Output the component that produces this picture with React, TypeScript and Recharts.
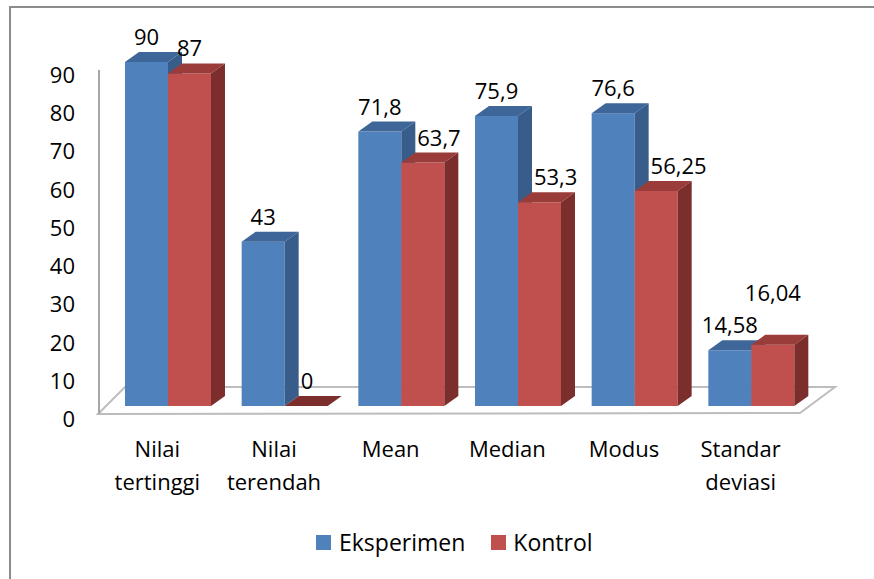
import { BarChart, Bar, XAxis, YAxis, ReferenceArea, LabelList, Legend } from "recharts";

const categories = ["Nilai tertinggi", "Nilai terendah", "Mean", "Median", "Modus", "Standar deviasi"];
const eksperimen = [90, 43, 71.8, 75.9, 76.6, 14.58];
const kontrol = [87, 0, 63.7, 53.3, 56.25, 16.04];
const yTicks = [0, 10, 20, 30, 40, 50, 60, 70, 80, 90];

const data = categories.map((name, i) => ({
  name,
  eksperimen: eksperimen[i],
  kontrol: kontrol[i],
}));

const FONT = "'Open Sans', sans-serif";
const DX = 14;
const DY = -10;

const palette = {
  blue: { front: "#4F81BD", top: "#3F6699", side: "#385D8A" },
  red: { front: "#C0504D", top: "#9A3C3A", side: "#7B2E2C" },
};

const fmt = (v: number) => String(v).replace(".", ",");
// rough text width at 22px
const textW = (s: string) => s.split("").reduce((a, ch) => a + (ch === "," ? 5.5 : 12.6), 0);

const make3dBar = (c: { front: string; top: string; side: string }) => (props: any) => {
  const { x, y, width: w, height: h } = props;
  if (x == null || y == null) return null;
  return (
    <g>
      <rect x={x} y={y} width={w} height={h} fill={c.front} />
      <polygon
        points={`${x},${y} ${x + DX},${y + DY} ${x + w + DX},${y + DY} ${x + w},${y}`}
        fill={h > 0 ? c.top : c.side}
      />
      <polygon
        points={`${x + w},${y} ${x + w + DX},${y + DY} ${x + w + DX},${y + h + DY} ${x + w},${y + h}`}
        fill={c.side}
      />
    </g>
  );
};

const Floor = (props: any) => {
  const { x, y, width, height } = props;
  const L = x;
  const R = x + width;
  const B = y + height;
  return (
    <g>
      <polygon
        points={`${L - 12},${B + 8} ${R - 10},${B + 7} ${R + 25},${B - 19} ${L + 15},${B - 19}`}
        fill="#fff"
        stroke="#BDBDBD"
        strokeWidth={2}
      />
      <line x1={L - 11} y1={y + 8} x2={L - 11} y2={B + 8} stroke="#A6A6A6" strokeWidth={2} />
    </g>
  );
};

const YTick = (props: any) => {
  const { y, payload } = props;
  return (
    <text x={75} y={y + 12} textAnchor="end" dominantBaseline="central" fontSize={22} fontFamily={FONT} fill="#000">
      {payload.value}
    </text>
  );
};

const XTick = (props: any) => {
  const { x, payload } = props;
  const lines = String(payload.value).split(" ");
  return (
    <g>
      {lines.map((ln, i) => (
        <text
          key={i}
          x={x - 11}
          y={448 + i * 33}
          textAnchor="middle"
          dominantBaseline="central"
          fontSize={22}
          fontFamily={FONT}
          fill="#000"
        >
          {ln}
        </text>
      ))}
    </g>
  );
};

const makeLabel = (series: "eksperimen" | "kontrol") => (props: any) => {
  const { x, y, width, value, index } = props;
  const text = fmt(value);
  const tw = textW(text);
  let cx = x + width / 2;
  let lift = 0;
  if (series === "kontrol") {
    const other = eksperimen[index];
    // keep clear of the taller blue bar's side face
    if (other - value > 5 && cx - tw / 2 < x + DX + 2) cx = x + DX + 2 + tw / 2;
    // stacked labels that would collide
    if (text.length > 3 && Math.abs(other - value) * 3.82 < 22) lift = 27;
  }
  return (
    <text
      x={cx}
      y={y - 26 - lift}
      textAnchor="middle"
      dominantBaseline="central"
      fontSize={22}
      fontFamily={FONT}
      fill="#000"
    >
      {text}
    </text>
  );
};

const LegendContent = () => (
  <div style={{ display: "flex", alignItems: "center", fontFamily: FONT, fontSize: 23, color: "#000", whiteSpace: "nowrap" }}>
    <span style={{ width: 15, height: 15, background: palette.blue.front, display: "inline-block", marginRight: 8 }} />
    <span>Eksperimen</span>
    <span style={{ width: 15, height: 15, background: palette.red.front, display: "inline-block", marginLeft: 26, marginRight: 7 }} />
    <span>Kontrol</span>
  </div>
);

export default function App() {
  return (
    <div style={{ position: "absolute", left: 0, top: 0, width: 874, height: 579, background: "#fff", overflow: "hidden" }}>
      <div
        style={{
          position: "absolute",
          left: 9,
          top: 6,
          width: 900,
          height: 600,
          borderTop: "2px solid #8C8C8C",
          borderLeft: "2px solid #8C8C8C",
        }}
      />
      <div style={{ position: "absolute", left: 0, top: 0 }}>
        <BarChart
          width={874}
          height={579}
          data={data}
          margin={{ top: 62, right: 64, bottom: 73, left: 50 }}
          barGap={0}
          barSize={43}
        >
          <XAxis dataKey="name" height={100} axisLine={false} tickLine={false} tick={<XTick />} interval={0} />
          <YAxis
            width={60}
            domain={[0, 90]}
            ticks={yTicks}
            axisLine={false}
            tickLine={false}
            tick={<YTick />}
            interval={0}
          />
          <ReferenceArea y1={0} y2={90} shape={<Floor />} />
          <Legend
            layout="horizontal"
            verticalAlign="middle"
            align="center"
            content={<LegendContent />}
            wrapperStyle={{ position: "absolute", top: 526, left: 316, width: "auto" }}
          />
          <Bar dataKey="eksperimen" name="Eksperimen" fill={palette.blue.front} shape={make3dBar(palette.blue)} isAnimationActive={false}>
            <LabelList dataKey="eksperimen" content={makeLabel("eksperimen")} />
          </Bar>
          <Bar dataKey="kontrol" name="Kontrol" fill={palette.red.front} shape={make3dBar(palette.red)} isAnimationActive={false}>
            <LabelList dataKey="kontrol" content={makeLabel("kontrol")} />
          </Bar>
        </BarChart>
      </div>
    </div>
  );
}
